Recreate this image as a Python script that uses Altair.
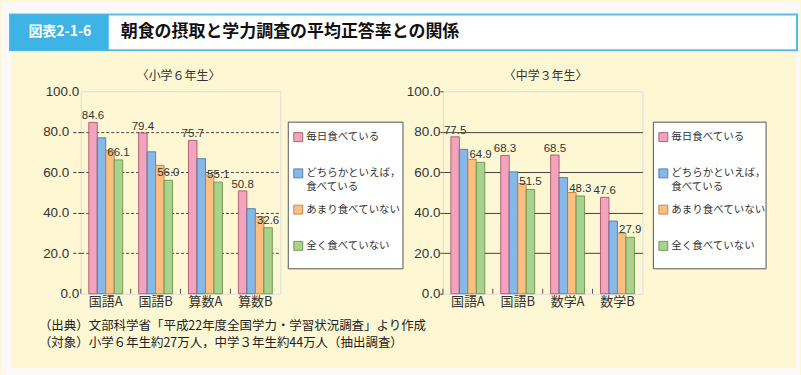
import altair as alt
import pandas as pd

# ---------------- data ----------------
series = ["毎日食べている", "どちらかといえば，食べている", "あまり食べていない", "全く食べていない"]
legend_line1 = ["毎日食べている", "どちらかといえば，", "あまり食べていない", "全く食べていない"]
legend_line2 = ["", "食べている", "", ""]
colors = ["#F4A3BC", "#86B9E8", "#FBBF80", "#A9D38C"]
strokes = ["#9C4A62", "#3F6F9F", "#B07A3A", "#5E8A45"]

subjects_e = ["国語A", "国語B", "算数A", "算数B"]
subjects_j = ["国語A", "国語B", "数学A", "数学B"]

elem_daily = [84.6, 79.4, 75.7, 50.8]
elem_mostly = [77.0, 70.1, 66.7, 42.0]
elem_rarely = [70.8, 63.4, 58.6, 38.0]
elem_never = [66.1, 56.0, 55.1, 32.6]

jhs_daily = [77.5, 68.3, 68.5, 47.6]
jhs_mostly = [71.3, 60.2, 57.4, 35.9]
jhs_rarely = [66.4, 54.4, 50.0, 30.0]
jhs_never = [64.9, 51.5, 48.3, 27.9]

y_ticks = [0, 20, 40, 60, 80, 100]
title_label = "図表2-1-6"
title_text = "朝食の摂取と学力調査の平均正答率との関係"
sub_e = "〈小学６年生〉"
sub_j = "〈中学３年生〉"
notes = [
    "（出典）文部科学省「平成22年度全国学力・学習状況調査」より作成",
    "（対象）小学６年生約27万人，中学３年生約44万人（抽出調査）",
]

CJK = "Noto Sans CJK JP"
NUM = "Liberation Sans"
BEIGE = "#FDF7D4"
PAGE = "#FCF8F9"
BLUE = "#3DB3E6"
W, H = 200, 203

one = pd.DataFrame({"k": [0]})


def rect(x1, x2, y1, y2, **kw):
    return alt.Chart(one).mark_rect(**kw).encode(
        x=alt.value(x1), x2=alt.value(x2), y=alt.value(y1), y2=alt.value(y2)
    )


def label(s, x, y, **kw):
    return alt.Chart(one).mark_text(text=s, **kw).encode(x=alt.value(x), y=alt.value(y))


color_enc = alt.Color("series:N", scale=alt.Scale(domain=series, range=colors), legend=None)
stroke_enc = alt.Stroke("series:N", scale=alt.Scale(domain=series, range=strokes), legend=None)


def panel(subjects, vals, dashed, subtitle, sub_x):
    rows = []
    for s, v in zip(series, vals):
        for subj, val in zip(subjects, v):
            rows.append({"subject": subj, "series": s, "value": val})
    df = pd.DataFrame(rows)

    xscale = alt.Scale(domain=subjects, paddingInner=0, paddingOuter=0)
    xaxis = alt.Axis(title=None, labelAngle=0, ticks=False, domain=False, labelFont=CJK,
                     labelFontSize=13, labelColor="#333", labelPadding=2)
    x = alt.X("subject:N", scale=xscale, axis=xaxis)
    xo = alt.XOffset("series:N", scale=alt.Scale(domain=series, paddingInner=0, paddingOuter=0.94))
    edge = "datum.value == 0 || datum.value == 100"
    if dashed:
        yaxis = alt.Axis(title=None, values=y_ticks, format=".1f", domain=False,
                         grid=True, gridDash=[3, 2], gridColor="#333", gridWidth=0.9,
                         gridOpacity={"condition": {"test": edge, "value": 0}, "value": 1},
                         tickSize=10, tickDash=[3, 2], tickColor="#333",
                         tickOpacity={"condition": {"test": edge, "value": 0}, "value": 1},
                         labelPadding={"condition": {"test": edge, "value": -8}, "value": 2},
                         labelFont=NUM, labelFontSize=13.5, labelColor="#333")
    else:
        yaxis = alt.Axis(title=None, values=y_ticks, format=".1f", domain=False,
                         grid=True, gridColor="#444", gridWidth=1,
                         gridOpacity={"condition": {"test": edge, "value": 0}, "value": 1},
                         tickSize=3, tickColor="#444", labelPadding=0,
                         labelFont=NUM, labelFontSize=13.5, labelColor="#333")
    y = alt.Y("value:Q", scale=alt.Scale(domain=[0, 100], nice=False), axis=yaxis)

    bars = alt.Chart(df).mark_bar(strokeWidth=0.8).encode(
        x=x, xOffset=xo, y=y, color=color_enc, stroke=stroke_enc
    )
    txt_top = alt.Chart(df).mark_text(font=NUM, fontSize=11.5, color="#333", baseline="alphabetic", dy=-3).encode(
        x=x, xOffset=xo, y=y, text=alt.Text("value:Q", format=".1f")
    ).transform_filter(alt.datum.series == series[0])
    txt_low = alt.Chart(df).mark_text(font=NUM, fontSize=11.5, color="#333", baseline="alphabetic", dy=-4).encode(
        x=x, xOffset=xo, y=y, text=alt.Text("value:Q", format=".1f")
    ).transform_filter(alt.datum.series == series[3])
    ticks = alt.Chart(pd.DataFrame({"subject": subjects})).mark_rule(color="#555", strokeWidth=1).encode(
        x=alt.X("subject:N", scale=xscale, axis=xaxis, bandPosition=0),
        y=alt.value(H - 5), y2=alt.value(H),
    )
    sub = label(subtitle, sub_x, -15, font=CJK, fontSize=12, color="#333", align="center", baseline="middle")
    return [sub, bars, ticks, txt_top, txt_low]


def legend_cell(box_x1, box_x2, sq_x, tx_x, width):
    ldf = pd.DataFrame({"series": series, "l1": legend_line1, "l2": legend_line2})
    ly = alt.Y("series:N", scale=alt.Scale(domain=series, range=[46, 155], padding=0), axis=None)
    box = rect(box_x1, box_x2, 31, 178, fill="white", stroke="#555", strokeWidth=1)
    sq = alt.Chart(ldf).mark_square(size=81, strokeWidth=0.8, opacity=1).encode(
        x=alt.value(sq_x), y=ly, color=color_enc, stroke=stroke_enc
    )
    t1 = alt.Chart(ldf).mark_text(font=CJK, fontSize=10.5, color="#333", align="left", baseline="middle").encode(
        x=alt.value(tx_x), y=ly, text="l1:N"
    )
    t2 = alt.Chart(ldf).mark_text(font=CJK, fontSize=10.5, color="#333", align="left", baseline="middle", dy=14).encode(
        x=alt.value(tx_x), y=ly, text="l2:N"
    )
    return alt.layer(box, sq, t1, t2).properties(
        width=width, height=H, view=alt.ViewBackground(stroke="transparent", fill="transparent")
    )


# decorations (drawn in the first cell; origin is the left plot's top-left corner at page (80, 90))
decor = [
    rect(-80, 721, -90, -40, fill=PAGE),
    rect(-80, -70, -40, 285, fill=PAGE),
    rect(717, 721, -40, 285, fill=PAGE),
    rect(-70, 717, 278, 285, fill=PAGE),
    rect(-71, 718, -77, -41, fill="white", stroke="#56BEE3", strokeWidth=2),
    rect(-71, 28, -77, -41, fill=BLUE),
    label(title_label, -21, -59, font=CJK, fontSize=14, fontWeight="bold", color="white", align="center", baseline="middle"),
    label(title_text, 40, -59, font=CJK, fontSize=17, fontWeight="bold", color="#111", align="left", baseline="middle"),
    alt.Chart(one).mark_text(text="\n".join(notes), lineBreak="\n", lineHeight=17, font=CJK, fontSize=12.5,
                             color="#222", align="left", baseline="middle").encode(x=alt.value(-42), y=alt.value(235)),
]

left = alt.layer(*decor, *panel(subjects_e, [elem_daily, elem_mostly, elem_rarely, elem_never], True, sub_e, 98)).properties(width=W, height=H)
right = alt.layer(*panel(subjects_j, [jhs_daily, jhs_mostly, jhs_rarely, jhs_never], False, sub_j, 103)).properties(width=W, height=H)

leg1 = legend_cell(8, 123, 18, 26, 163)
leg2 = legend_cell(11, 124, 21, 29, 158)

chart = alt.hconcat(left, leg1, right, leg2, spacing=0, bounds="flush").properties(
    padding=0, background=BEIGE
).configure_view(stroke="#555", strokeWidth=1, fill="white").configure(font=CJK)

chart.save("out.html", embed_options={"renderer": "svg", "actions": False})
